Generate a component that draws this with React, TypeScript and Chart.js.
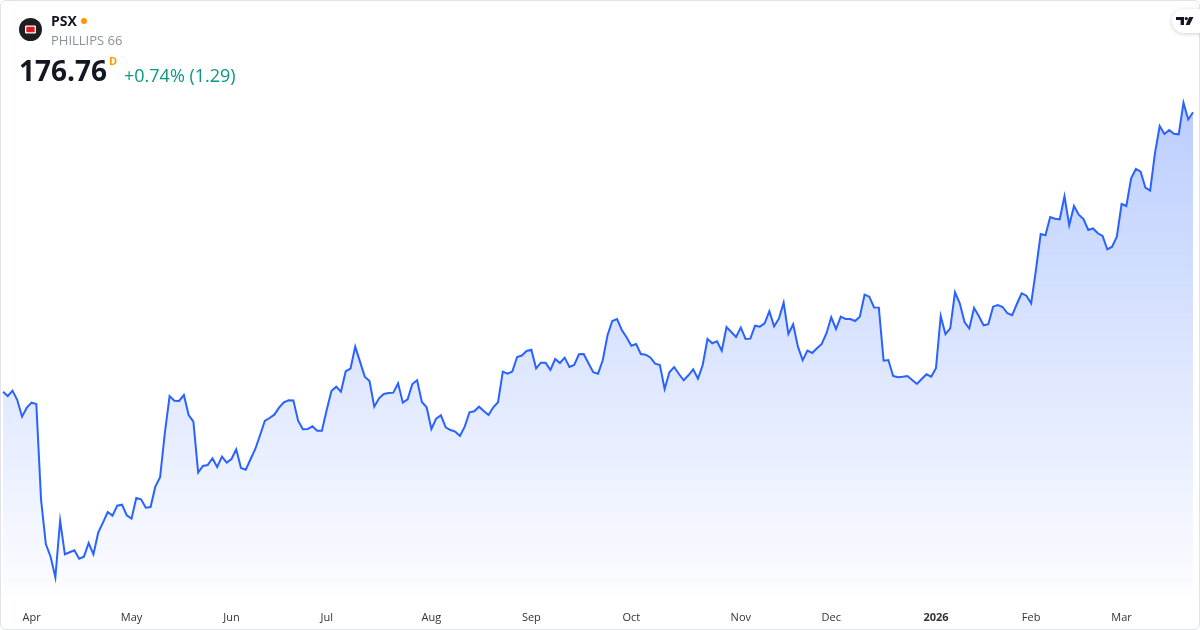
import React, { useEffect, useRef } from "react";
import { Chart, registerables } from "chart.js";

Chart.register(...registerables);

// Daily closes of PSX, one value per trading day (late Mar 2025 → Mar 2026)
const closes: number[] = [
  126.47, 125.69, 126.65, 124.97, 121.97, 123.59, 124.49, 124.25, 106.97, 99.05,
  96.77, 93.06, 103.25, 97.2, 97.56, 97.92, 96.41, 96.77, 99.23, 97.2,
  101.09, 102.89, 104.81, 104.15, 105.95, 106.13, 104.22, 103.61, 107.33, 107.1,
  105.59, 105.71, 109.37, 111.06, 119.03, 125.69, 124.85, 124.8, 125.87, 122.27,
  121.07, 111.92, 113.09, 113.27, 114.48, 112.91, 114.77, 113.69, 114.35, 116.1,
  112.73, 112.43, 114.3, 116.15, 118.62, 121.19, 121.73, 122.33, 123.59, 124.56,
  124.92, 124.9, 121.25, 119.7, 119.75, 120.24, 119.45, 119.43, 123.17, 126.59,
  127.37, 126.47, 130.14, 130.61, 134.57, 131.87, 129.17, 128.39, 123.77, 125.28,
  126.05, 126.23, 126.29, 127.98, 124.49, 125.1, 127.85, 128.52, 124.61, 123.66,
  119.75, 121.61, 122.22, 120.06, 119.57, 119.27, 118.49, 120.17, 122.76, 122.94,
  123.77, 122.99, 122.27, 123.66, 124.56, 130.07, 129.71, 130.1, 132.71, 132.98,
  133.79, 134.03, 130.68, 131.69, 131.66, 130.37, 132.35, 131.63, 132.59, 130.91,
  131.27, 133.2, 133.25, 131.58, 129.96, 129.71, 132.12, 136.62, 139.19, 139.55,
  137.57, 136.26, 134.75, 135.05, 133.25, 133.13, 132.62, 131.51, 131.27, 126.95,
  129.96, 130.91, 129.65, 128.52, 129.42, 130.5, 128.81, 131.27, 135.95, 135.18,
  135.54, 133.85, 138.11, 137.21, 136.31, 137.99, 135.95, 136.01, 138.35, 138.17,
  138.78, 140.94, 138.24, 139.61, 142.49, 136.85, 138.6, 134.57, 132.12, 133.85,
  133.43, 134.28, 135.05, 136.98, 139.86, 137.75, 139.97, 139.55, 139.53, 139.19,
  139.97, 143.93, 143.57, 141.62, 141.6, 132.05, 132.17, 129.29, 129.08, 129.17,
  129.29, 128.57, 127.85, 128.75, 129.6, 129.17, 130.68, 140.09, 136.82, 137.88,
  144.36, 142.38, 139.01, 137.84, 141.53, 140.09, 138.42, 138.62, 141.77, 142.07,
  141.71, 140.58, 140.22, 142.25, 144.18, 143.75, 142.38, 148.37, 154.85, 154.62,
  157.91, 157.61, 157.5, 161.64, 156.42, 159.89, 158.33, 157.55, 155.57, 155.84,
  154.98, 154.49, 152.1, 152.57, 154.37, 160.25, 159.89, 164.88, 166.55, 166.07,
  163.19, 162.65, 169.38, 174.29, 172.85, 173.57, 172.9, 172.8, 178.49, 175.47,
  176.76,
];

// Trading-day categories (index of each session)
const sessions: string[] = closes.map((_, i) => String(i));

// Month tick labels and the session index of each month's first trading day
const monthLabels: string[] = ["Apr", "May", "Jun", "Jul", "Aug", "Sep", "Oct", "Nov", "Dec", "2026", "Feb", "Mar"];
const monthFirstSession: number[] = [6, 27, 48, 68, 90, 111, 132, 155, 174, 196, 216, 235];

const yMin = 89.33;
const yMax = 186.17;

const FONT = "'Open Sans', 'Noto Sans', sans-serif";

function ChartCanvas() {
  const ref = useRef<HTMLCanvasElement | null>(null);
  useEffect(() => {
    if (!ref.current) return;
    const chart = new Chart(ref.current, {
      type: "line",
      data: {
        labels: sessions,
        datasets: [
          {
            data: closes,
            borderColor: "#2962FF",
            borderWidth: 2,
            pointRadius: 0,
            tension: 0,
            fill: "start",
            backgroundColor: (ctx: any) => {
              const c = ctx.chart;
              const area = c.chartArea;
              if (!area) return "rgba(41,98,255,0.15)";
              const g = c.ctx.createLinearGradient(0, area.top, 0, area.bottom);
              g.addColorStop(0, "rgba(41,98,255,0.34)");
              g.addColorStop(1, "rgba(41,98,255,0.01)");
              return g;
            },
          },
        ],
      },
      options: {
        animation: false,
        responsive: false,
        maintainAspectRatio: false,
        layout: { padding: { left: 3, right: 7, top: 60, bottom: 0 } },
        plugins: { legend: { display: false }, tooltip: { enabled: false } },
        scales: {
          x: {
            type: "category",
            offset: false,
            border: { display: false },
            grid: { display: false, drawTicks: false },
            afterFit: (scale: any) => {
              scale.height = 32;
            },
            afterBuildTicks: (scale: any) => {
              scale.ticks = monthFirstSession.map((v) => ({ value: v }));
            },
            ticks: {
              autoSkip: false,
              maxRotation: 0,
              padding: 13,
              color: "#333",
              font: (ctx: any) => ({
                family: FONT,
                size: 11,
                weight: monthLabels[ctx.index] === "2026" ? "bold" : "normal",
              }),
              callback: (_v: any, i: number) => monthLabels[i],
            },
          },
          y: {
            display: false,
            min: yMin,
            max: yMax,
          },
        },
      },
    } as any);
    return () => chart.destroy();
  }, []);
  return <canvas ref={ref} width={1200} height={630} style={{ position: "absolute", left: 0, top: 0, width: 1200, height: 630 }} />;
}

export default function App() {
  return (
    <div
      style={{
        position: "fixed",
        left: 0,
        top: 0,
        width: 1200,
        height: 630,
        background: "#fff",
        overflow: "hidden",
        fontFamily: FONT,
      }}
    >
      <ChartCanvas />
      {/* frame */}
      <div
        style={{
          position: "absolute",
          left: 0,
          top: 0,
          width: 1200,
          height: 630,
          boxSizing: "border-box",
          border: "1px solid #e0e3eb",
          borderRadius: 6,
          pointerEvents: "none",
        }}
      />
      {/* symbol logo */}
      <svg style={{ position: "absolute", left: 19, top: 18 }} width={23} height={23} viewBox="0 0 23 23">
        <circle cx={11.5} cy={11.5} r={11.5} fill="#1e1e1e" />
        <rect x={6} y={7.5} width={11} height={8} rx={1.2} fill="#ffffff" />
        <rect x={7.3} y={8.8} width={8.4} height={5.4} rx={0.6} fill="#e01b24" />
      </svg>
      <div style={{ position: "absolute", left: 51, top: 13.6, fontSize: 14, lineHeight: "14px", fontWeight: 700, color: "#131722" }}>PSX</div>
      <div style={{ position: "absolute", left: 81, top: 18, width: 6, height: 6, borderRadius: 3, background: "#ff9800" }} />
      <div style={{ position: "absolute", left: 51, top: 34.2, fontSize: 13, lineHeight: "13px", color: "#8c8f99" }}>PHILLIPS 66</div>
      <div style={{ position: "absolute", left: 19, top: 56, fontSize: 28, lineHeight: "28px", fontWeight: 700, color: "#131722" }}>176.76</div>
      <div style={{ position: "absolute", left: 109, top: 55.2, fontSize: 11, lineHeight: "11px", fontWeight: 700, color: "#ff9800" }}>D</div>
      <div style={{ position: "absolute", left: 124, top: 65.7, fontSize: 18, lineHeight: "18px", color: "#089981" }}>+0.74% (1.29)</div>
      {/* TradingView badge */}
      <div
        style={{
          position: "absolute",
          left: 1172,
          top: 9,
          width: 40,
          height: 24,
          borderRadius: 12,
          background: "#fff",
          boxShadow: "0 1px 4px rgba(0,0,0,0.18)",
        }}
      >
        <svg style={{ position: "absolute", left: 4, top: 8 }} width={18} height={8} viewBox="0 0 18 8">
          <path d="M0 0 H8 V8 H4.6 V3 H0 Z" fill="#131722" />
          <circle cx={10.3} cy={1.6} r={1.6} fill="#131722" />
          <path d="M13.2 0 H17.5 L13.6 8 H9.6 Z" fill="#131722" />
        </svg>
      </div>
    </div>
  );
}
